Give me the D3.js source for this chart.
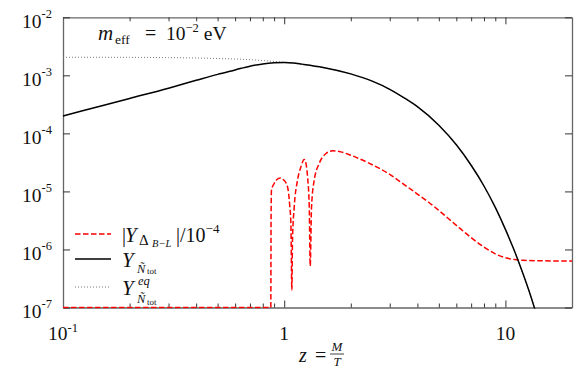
<!DOCTYPE html>
<html>
<head>
<meta charset="utf-8">
<script src="https://cdn.jsdelivr.net/npm/d3@7"></script>
<style>
body { margin: 0; background: #fff; }
svg { display: block; }
</style>
</head>
<body>
<div id="chart"></div>
<script>
// |Y_Delta(B-L)| / 1e-4  (red dashed)
var zB = [0.1, 0.5, 0.87, 0.872, 0.876, 0.901, 0.93, 0.959, 0.99, 1.035, 1.06, 1.072, 1.083,
          1.09, 1.11, 1.149, 1.19, 1.232, 1.255, 1.275, 1.298, 1.311, 1.329, 1.367, 1.44,
          1.545, 1.655, 1.8, 2.0, 2.43, 3.0, 3.5, 4.0, 4.5, 5, 6, 7, 8, 9, 10, 11, 12, 14, 17, 20];
var yB = [1e-7, 1e-7, 1e-7, 3e-6, 1.05e-5, 1.37e-5, 1.62e-5, 1.71e-5, 1.6e-5, 1.2e-5, 5.5e-6, 2.8e-6, 2.0e-7,
          1.45e-6, 5.4e-6, 1.57e-5, 2.65e-5, 3.56e-5, 3.0e-5, 1.79e-5, 5.4e-6, 5.2e-7, 5.4e-6, 1.57e-5, 3.04e-5,
          4.5e-5, 5.0e-5, 4.8e-5, 4.2e-5, 3.04e-5, 1.96e-5, 1.3e-5, 9.0e-6, 6.5e-6, 4.7e-6, 2.6e-6, 1.6e-6, 1.1e-6,
          8.4e-7, 7.2e-7, 6.7e-7, 6.5e-7, 6.4e-7, 6.35e-7, 6.35e-7];

// Y_N tot (black solid)
var zN = [0.1, 0.15, 0.2, 0.3, 0.4, 0.5, 0.6, 0.7, 0.8, 0.9, 1.0, 1.1, 1.2, 1.5, 2, 2.5, 3, 3.5, 4,
          5, 6, 7, 8, 9, 10, 11, 12, 13, 14];
var yN = [2.0e-4, 3.0e-4, 4.0e-4, 6.0e-4, 8.2e-4, 1.04e-3, 1.24e-3, 1.44e-3, 1.57e-3, 1.64e-3, 1.66e-3, 1.63e-3,
          1.56e-3, 1.37e-3, 1.06e-3, 7.95e-4, 5.75e-4, 4.05e-4, 2.88e-4, 1.38e-4, 6.35e-5, 2.82e-5, 1.24e-5,
          5.3e-6, 2.22e-6, 9.3e-7, 3.85e-7, 1.6e-7, 6.4e-8];

// Y_N tot equilibrium (grey dotted)
var zEq = [0.1, 0.2, 0.3, 0.4, 0.5, 0.6, 0.7, 0.8, 0.9, 1.0, 1.2, 1.5, 2, 2.5, 3, 3.5, 4, 5, 6, 7, 8,
           9, 10, 11, 12, 13, 14];
var yEq = [2.05e-3, 2.04e-3, 2.02e-3, 1.99e-3, 1.95e-3, 1.91e-3, 1.86e-3, 1.8e-3, 1.74e-3, 1.68e-3, 1.55e-3,
           1.36e-3, 1.05e-3, 7.9e-4, 5.7e-4, 4.0e-4, 2.85e-4, 1.37e-4, 6.3e-5, 2.8e-5, 1.23e-5, 5.3e-6,
           2.2e-6, 9.3e-7, 3.85e-7, 1.6e-7, 6.4e-8];

var xMajor = [0.1, 1, 10];
var xMinor = [0.2, 0.3, 0.4, 0.5, 0.6, 0.7, 0.8, 0.9, 2, 3, 4, 5, 6, 7, 8, 9];
var xTickBase = ["10", "1", "10"];
var xTickExp = ["-1", "", ""];
var yMajor = [1e-7, 1e-6, 1e-5, 1e-4, 1e-3, 1e-2];
var yTickExp = ["-7", "-6", "-5", "-4", "-3", "-2"];

var serif = "'Liberation Serif', 'Times New Roman', Times, 'DejaVu Serif', serif";
var margin = {top: 17.3, right: 9, bottom: 81.5, left: 63};
var dimensions = {width: 581 - 63 - 9, height: 389 - 17.3 - 81.5};

var svg = d3.select("#chart").append("svg")
    .attr("width", 581)
    .attr("height", 389);
var g = svg.append("g")
    .attr("transform", "translate(" + margin.left + "," + margin.top + ")");

var x = d3.scaleLog().domain([0.1, 20]).range([0, dimensions.width]);
var y = d3.scaleLog().domain([1e-7, 1e-2]).range([dimensions.height, 0]);

// write a text made of pieces with their own size / offset / style
// (relative dy only, so text-anchor works on the whole string; p.x pins a piece)
function rich(parent, px, py, parts, anchor) {
    var t = parent.append("text")
        .attr("x", px).attr("y", py)
        .attr("text-anchor", anchor || "start")
        .attr("font-family", serif)
        .attr("fill", "#111");
    var cur = 0;
    parts.forEach(function(p) {
        var off = p.dy || 0;
        var s = t.append("tspan")
            .attr("dy", off - cur)
            .attr("font-size", p.size)
            .attr("font-style", p.italic ? "italic" : "normal")
            .text(p.t);
        if (p.x != null) s.attr("x", p.x);
        if (p.dx) s.attr("dx", p.dx);
        cur = off;
    });
    return t;
}

function styleAxis(sel) {
    sel.select(".domain").attr("stroke", "#666").attr("stroke-width", 1.3);
    sel.selectAll(".tick line").attr("stroke", "#333").attr("stroke-width", 1);
}

function addAxes() {
    var h = dimensions.height, w = dimensions.width;
    var bottom = g.append("g").attr("transform", "translate(0," + h + ")")
        .call(d3.axisBottom(x).tickValues(xMajor).tickSizeInner(-7).tickSizeOuter(0).tickFormat(""));
    var bottomMinor = g.append("g").attr("transform", "translate(0," + h + ")")
        .call(d3.axisBottom(x).tickValues(xMinor).tickSizeInner(-4).tickSizeOuter(0).tickFormat(""));
    var top = g.append("g")
        .call(d3.axisTop(x).tickValues(xMajor).tickSizeInner(-7).tickSizeOuter(0).tickFormat(""));
    var topMinor = g.append("g")
        .call(d3.axisTop(x).tickValues(xMinor).tickSizeInner(-4).tickSizeOuter(0).tickFormat(""));
    var left = g.append("g")
        .call(d3.axisLeft(y).tickValues(yMajor).tickSizeInner(-7).tickSizeOuter(0).tickFormat(""));
    var right = g.append("g").attr("transform", "translate(" + w + ",0)")
        .call(d3.axisRight(y).tickValues(yMajor).tickSizeInner(-7).tickSizeOuter(0).tickFormat(""));
    [bottom, bottomMinor, top, topMinor, left, right].forEach(styleAxis);
    bottomMinor.select(".domain").remove();
    topMinor.select(".domain").remove();

    // tick labels
    xMajor.forEach(function(v, i) {
        var parts = [{t: xTickBase[i], size: 19.5}];
        if (xTickExp[i]) parts.push({t: xTickExp[i], size: 12.5, dy: -8.5});
        rich(g, x(v), h + 33, parts, "middle");
    });
    yMajor.forEach(function(v, i) {
        rich(g, -11, y(v) + 10.5, [{t: "10", size: 19.5}, {t: yTickExp[i], size: 12.5, dy: -10}], "end");
    });
}

function addLines() {
    svg.append("clipPath").attr("id", "plotclip")
        .append("rect").attr("x", -1).attr("y", -1)
        .attr("width", dimensions.width + 2).attr("height", dimensions.height + 2);
    var lines = g.append("g").attr("clip-path", "url(#plotclip)");
    var line = d3.line()
        .x(function(d) { return x(d[0]); })
        .y(function(d) { return y(d[1]); })
        .curve(d3.curveMonotoneX);

    lines.append("path")
        .attr("d", line(d3.zip(zB, yB)))
        .attr("fill", "none").attr("stroke", "#ff0000")
        .attr("stroke-width", 1.5).attr("stroke-dasharray", "5.5,2.5");
    lines.append("path")
        .attr("d", line(d3.zip(zEq, yEq)))
        .attr("fill", "none").attr("stroke", "#777")
        .attr("stroke-width", 1).attr("stroke-dasharray", "1,2");
    lines.append("path")
        .attr("d", line(d3.zip(zN, yN)))
        .attr("fill", "none").attr("stroke", "#000")
        .attr("stroke-width", 1.5);
}

function addTexts() {
    // m_eff = 10^-2 eV
    rich(svg, 98, 40, [
        {t: "m", size: 21, italic: true},
        {t: "eff", size: 13.5, dy: 4, x: 115},
        {t: "=", size: 20, x: 145},
        {t: "10", size: 19.5, x: 166},
        {t: "\u22122", size: 12.5, dy: -8},
        {t: "eV", size: 19.5, dx: 5}
    ]);

    // x label z = M/T
    var lab = svg.append("g");
    rich(lab, 299, 362, [{t: "z", size: 20, italic: true}, {t: "=", size: 20, x: 315}]);
    rich(lab, 337, 351, [{t: "M", size: 13, italic: true}], "middle");
    rich(lab, 337, 366, [{t: "T", size: 13, italic: true}], "middle");
    lab.append("line").attr("x1", 330).attr("x2", 344).attr("y1", 354).attr("y2", 354)
        .attr("stroke", "#111").attr("stroke-width", 0.8);

    // legend
    var leg = svg.append("g");
    leg.append("line").attr("x1", 75).attr("x2", 111).attr("y1", 234).attr("y2", 234)
        .attr("stroke", "#ff0000").attr("stroke-width", 1.5).attr("stroke-dasharray", "5.5,2.5");
    leg.append("line").attr("x1", 75).attr("x2", 111).attr("y1", 259).attr("y2", 259)
        .attr("stroke", "#000").attr("stroke-width", 1.5);
    leg.append("line").attr("x1", 75).attr("x2", 111).attr("y1", 287).attr("y2", 287)
        .attr("stroke", "#777").attr("stroke-width", 1).attr("stroke-dasharray", "1,2");

    rich(leg, 122, 242, [
        {t: "|", size: 20},
        {t: "Y", size: 21, italic: true, x: 125},
        {t: "\u0394", size: 15, dy: 3, x: 139},
        {t: "B\u2212L", size: 10.5, italic: true, dy: 5, x: 152},
        {t: "|/10", size: 20, x: 176},
        {t: "\u22124", size: 13, dy: -9}
    ]);
    rich(leg, 122, 267, [
        {t: "Y", size: 21, italic: true},
        {t: "\u00d1", size: 12.5, italic: true, dy: 5.5, x: 137},
        {t: "tot", size: 9, dy: 7, x: 147}
    ]);
    rich(leg, 122, 295, [{t: "Y", size: 21, italic: true}]);
    rich(leg, 138, 285, [{t: "eq", size: 12.5, italic: true}]);
    rich(leg, 137, 303, [
        {t: "\u00d1", size: 12.5, italic: true},
        {t: "tot", size: 9, dy: 2, x: 147}
    ]);
}

addAxes();
addLines();
addTexts();
</script>
</body>
</html>
